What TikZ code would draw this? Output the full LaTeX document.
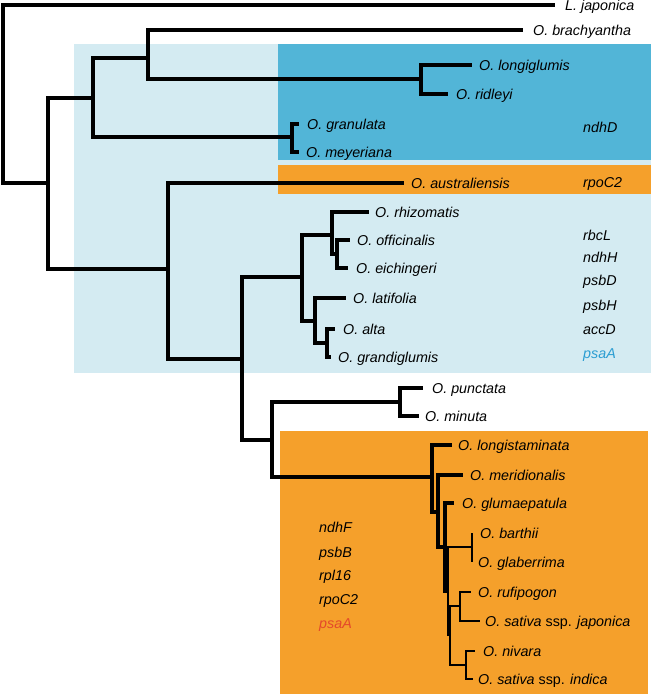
\documentclass[tikz,border=0pt]{standalone}
\usepackage{fontspec}
\setmainfont{Liberation Sans}
\definecolor{lightbg}{HTML}{D4EBF2}
\definecolor{darkbg}{HTML}{52B5D7}
\definecolor{orangebg}{HTML}{F5A02B}
\definecolor{psablue}{HTML}{2A9DD2}
\definecolor{psared}{HTML}{E4492A}
\begin{document}
\begin{tikzpicture}[x=1pt,y=-1pt,
  br/.style={line width=3.4pt, line cap=butt, line join=miter},
  thinbr/.style={line width=2.5pt, line cap=butt, line join=miter},
  lab/.style={anchor=base west, inner sep=0pt, font=\fontsize{14.3}{16}\selectfont\itshape},
  gene/.style={lab}]
\useasboundingbox (0,0) rectangle (651,694);
% background boxes
\fill[lightbg] (74,44) rectangle (651,373);
\fill[darkbg] (278,44) rectangle (651,160);
\fill[orangebg] (278,165) rectangle (651,194);
\fill[orangebg] (280,431) rectangle (648,694);
% internal nodes
\coordinate (r) at (3,95);
\coordinate (n48) at (48,183);
\coordinate (n93) at (93,98);
\coordinate (n148) at (148,58);
\coordinate (n421) at (421,79);
\coordinate (n292) at (292,137);
\coordinate (n168) at (168,269);
\coordinate (n242) at (242,359);
\coordinate (n302) at (302,277);
\coordinate (n332) at (332,235);
\coordinate (n337) at (337,254);
\coordinate (n315) at (315,321);
\coordinate (n327) at (327,343);
\coordinate (n272) at (272,440);
\coordinate (n400) at (400,402);
\coordinate (n432) at (432,477);
\coordinate (n438) at (438,512);
\coordinate (n445) at (445,547);
\coordinate (n448) at (448,591);
\coordinate (n472) at (472,547);
\coordinate (n450) at (450,635);
\coordinate (n460) at (460,606);
\coordinate (n466) at (466,665);
% tips
\coordinate (tLjap) at (555,5);
\coordinate (tBrach) at (523,30);
\coordinate (tLong) at (472,65);
\coordinate (tRidl) at (448,94);
\coordinate (tGran) at (299,124);
\coordinate (tMey) at (299,152);
\coordinate (tAus) at (404,183);
\coordinate (tRhiz) at (369,212);
\coordinate (tOff) at (350,240);
\coordinate (tEich) at (348,268);
\coordinate (tLati) at (346,298);
\coordinate (tAlta) at (335,329);
\coordinate (tGrand) at (331,357);
\coordinate (tPunc) at (423,388);
\coordinate (tMinu) at (419,416);
\coordinate (tLsta) at (452,445);
\coordinate (tMeri) at (463,475);
\coordinate (tGlum) at (454,503);
\coordinate (tBart) at (472,533);
\coordinate (tGlab) at (472,562);
\coordinate (tRufi) at (471,592);
\coordinate (tJapo) at (480,621);
\coordinate (tNiva) at (475,651);
\coordinate (tIndi) at (473,679);
% branches
\draw[br] (r) |- (tLjap) (r) |- (n48);
\draw[br] (n48) |- (n93) (n48) |- (n168);
\draw[br] (n93) |- (n148) (n93) |- (n292);
\draw[br] (n148) |- (tBrach) (n148) |- (n421);
\draw[br] (n421) |- (tLong) (n421) |- (tRidl);
\draw[br] (n292) |- (tGran) (n292) |- (tMey);
\draw[br] (n168) |- (tAus) (n168) |- (n242);
\draw[br] (n242) |- (n302) (n242) |- (n272);
\draw[br] (n302) |- (n332) (n302) |- (n315);
\draw[br] (n332) |- (tRhiz) (n332) |- (n337);
\draw[br] (n337) |- (tOff) (n337) |- (tEich);
\draw[br] (n315) |- (tLati) (n315) |- (n327);
\draw[br] (n327) |- (tAlta) (n327) |- (tGrand);
\draw[br] (n272) |- (n400) (n272) |- (n432);
\draw[br] (n400) |- (tPunc) (n400) |- (tMinu);
\draw[br] (n432) |- (tLsta) (n432) |- (n438);
\draw[br] (n438) |- (tMeri) (n438) |- (n445);
\draw[br] (n445) |- (tGlum) (n445) |- (n448);
\draw[thinbr] (n448) |- (n472) (n448) |- (n450);
\draw[thinbr] (n472) |- (tBart) (n472) |- (tGlab);
\draw[thinbr] (n450) |- (n460) (n450) |- (n466);
\draw[thinbr] (n460) |- (tRufi) (n460) |- (tJapo);
\draw[thinbr] (n466) |- (tNiva) (n466) |- (tIndi);
% taxon labels
\node[lab] (lLjap) at (565,10) {L. japonica};
\node[lab] (lBrach) at (533,35) {O. brachyantha};
\node[lab] (lLong) at (479,70) {O. longiglumis};
\node[lab] (lRidl) at (456,99) {O. ridleyi};
\node[lab] (lGran) at (307,129) {O. granulata};
\node[lab] (lMey) at (306,157) {O. meyeriana};
\node[lab] (lAus) at (411,188) {O. australiensis};
\node[lab] (lRhiz) at (375,217) {O. rhizomatis};
\node[lab] (lOff) at (357,245) {O. officinalis};
\node[lab] (lEich) at (356,273) {O. eichingeri};
\node[lab] (lLati) at (353,303) {O. latifolia};
\node[lab] (lAlta) at (343,334) {O. alta};
\node[lab] (lGrand) at (338,362) {O. grandiglumis};
\node[lab] (lPunc) at (432,393) {O. punctata};
\node[lab] (lMinu) at (425,421) {O. minuta};
\node[lab] (lLsta) at (458,450) {O. longistaminata};
\node[lab] (lMeri) at (470,480) {O. meridionalis};
\node[lab] (lGlum) at (462,508) {O. glumaepatula};
\node[lab] (lBart) at (480,538) {O. barthii};
\node[lab] (lGlab) at (478,567) {O. glaberrima};
\node[lab] (lRufi) at (478,597) {O. rufipogon};
\node[lab] (lJapo) at (485,626) {O. sativa \textup{ssp.} japonica};
\node[lab] (lNiva) at (483,656) {O. nivara};
\node[lab] (lIndi) at (478,684) {O. sativa \textup{ssp.} indica};
% gene labels
\node[gene] (gNdhD) at (583,132) {ndhD};
\node[gene] (gRpoC2a) at (583,187) {rpoC2};
\node[gene] (gRbcL) at (583,240) {rbcL};
\node[gene] (gNdhH) at (583,262) {ndhH};
\node[gene] (gPsbD) at (583,285) {psbD};
\node[gene] (gPsbH) at (583,310) {psbH};
\node[gene] (gAccD) at (583,334) {accD};
\node[gene, text=psablue] (gPsaA1) at (583,358) {psaA};
\node[gene] (gNdhF) at (319,532) {ndhF};
\node[gene] (gPsbB) at (319,557) {psbB};
\node[gene] (gRpl16) at (319,580) {rpl16};
\node[gene] (gRpoC2b) at (319,604) {rpoC2};
\node[gene, text=psared] (gPsaA2) at (319,628) {psaA};
\end{tikzpicture}
\end{document}
